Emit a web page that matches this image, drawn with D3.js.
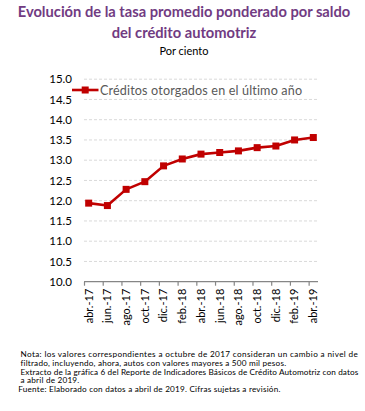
<!DOCTYPE html>
<html><head><meta charset="utf-8">
<script src="https://cdn.jsdelivr.net/npm/d3@7"></script>
<style>
html,body{margin:0;padding:0;background:#fff;}
svg{display:block;}
text{font-family:Lato,"Open Sans",sans-serif;}
</style></head>
<body>
<div id="chart"></div>
<script>
const categories = ["abr.-17","jun.-17","ago.-17","oct.-17","dic.-17","feb.-18","abr.-18","jun.-18","ago.-18","oct.-18","dic.-18","feb.-19","abr.-19"];
const values = [11.94, 11.88, 12.28, 12.47, 12.86, 13.03, 13.15, 13.19, 13.23, 13.31, 13.35, 13.50, 13.56];
const yTicks = [10.0, 10.5, 11.0, 11.5, 12.0, 12.5, 13.0, 13.5, 14.0, 14.5, 15.0];
const seriesName = "Créditos otorgados en el último año";
const titleLines = ["Evolución de la tasa promedio ponderado por saldo", "del crédito automotriz"];
const subtitle = "Por ciento";
const notes = [
  "Nota: los valores correspondientes a octubre de 2017 consideran un cambio a nivel de",
  "filtrado, incluyendo, ahora, autos con valores mayores a 500 mil pesos.",
  "Extracto de la gráfica 6 del Reporte de Indicadores Básicos de Crédito Automotriz con datos",
  "a abril de 2019.",
  "Fuente: Elaborado con datos a abril de 2019. Cifras sujetas a revisión."
];

const W = 365, H = 411;
const svg = d3.select("#chart").append("svg").attr("width", W).attr("height", H);

// month slots: 25 months from abr-17 to abr-19, categories every 2 months
const nMonths = 25;
const x = d3.scaleLinear().domain([0, nMonths]).range([84, 318]);
const y = d3.scaleLinear().domain([10, 15]).range([281.7, 79.2]);
const px = i => x(i * 2 + 0.5);

// title
svg.append("g").selectAll("text").data(titleLines).join("text")
  .attr("x", 184).attr("y", (d, i) => 16.5 + i * 21)
  .attr("text-anchor", "middle")
  .attr("font-weight", "bold").attr("font-size", 14.7)
  .attr("fill", "#713B82")
  .text(d => d);
svg.append("text").attr("x", 184).attr("y", 55).attr("text-anchor", "middle")
  .attr("font-size", 11).attr("fill", "#000").text(subtitle);

// gridlines
svg.append("g").selectAll("line").data(yTicks.filter(v => v > 10)).join("line")
  .attr("x1", x(0)).attr("x2", x(nMonths))
  .attr("y1", d => y(d)).attr("y2", d => y(d))
  .attr("stroke", "#D9D9D9").attr("stroke-width", 1).attr("stroke-dasharray", "3,2");

// y labels
const yAxis = d3.axisLeft(y).tickValues(yTicks).tickFormat(d3.format(".1f")).tickSize(0).tickPadding(0);
const gy = svg.append("g").attr("transform", "translate(72,0)").call(yAxis);
gy.select(".domain").remove();
gy.selectAll("text").attr("font-family", "Lato, sans-serif").attr("font-size", 11.5).attr("fill", "#000");

// x axis
const xAxis = d3.axisBottom(x).tickValues(d3.range(0, nMonths, 2)).tickSize(4).tickFormat("");
const gx = svg.append("g").attr("transform", `translate(0,${y(10)})`).call(xAxis);
gx.select(".domain").attr("stroke", "#868686").attr("stroke-width", 1.3).attr("d", `M${x(0)},0H${x(nMonths)}`);
gx.selectAll(".tick line").attr("stroke", "#868686").attr("stroke-width", 1.2);

svg.append("g").selectAll("text").data(categories).join("text")
  .attr("transform", (d, i) => `translate(${px(i)},${y(10) + 7}) rotate(-90)`)
  .attr("text-anchor", "end").attr("dy", "0.35em")
  .attr("font-size", 11).attr("fill", "#000")
  .text(d => d);

// line
const line = d3.line().x((d, i) => px(i)).y(d => y(d));
svg.append("path").datum(values).attr("d", line)
  .attr("fill", "none").attr("stroke", "#C00000").attr("stroke-width", 2.6).attr("stroke-linejoin", "round");
const ms = 7;
svg.append("g").selectAll("rect").data(values).join("rect")
  .attr("x", (d, i) => px(i) - ms / 2).attr("y", d => y(d) - ms / 2)
  .attr("width", ms).attr("height", ms).attr("fill", "#C00000");

// legend
const lg = svg.append("g");
lg.append("line").attr("x1", 72).attr("x2", 98.5).attr("y1", 90).attr("y2", 90)
  .attr("stroke", "#C00000").attr("stroke-width", 2.6);
lg.append("rect").attr("x", 85.2 - ms / 2).attr("y", 90 - ms / 2).attr("width", ms).attr("height", ms).attr("fill", "#C00000");
lg.append("text").attr("x", 100).attr("y", 94.5).attr("font-size", 12.6).attr("letter-spacing", 0.15).attr("fill", "#595959").text(seriesName);

// notes
const noteY = [357.3, 366, 374.5, 383, 392];
const noteX = [20.5, 20.5, 20.5, 20.5, 18.3];
const justify = [337.5, null, 338, null, null];
svg.append("g").selectAll("text").data(notes).join("text")
  .attr("x", (d, i) => noteX[i]).attr("y", (d, i) => noteY[i])
  .attr("font-size", 8.2).attr("fill", "#000").attr("letter-spacing", 0.2)
  .each(function(d, i) { if (justify[i]) d3.select(this).attr("textLength", justify[i]).attr("lengthAdjust", "spacing"); })
  .text(d => d);
</script>
</body></html>
